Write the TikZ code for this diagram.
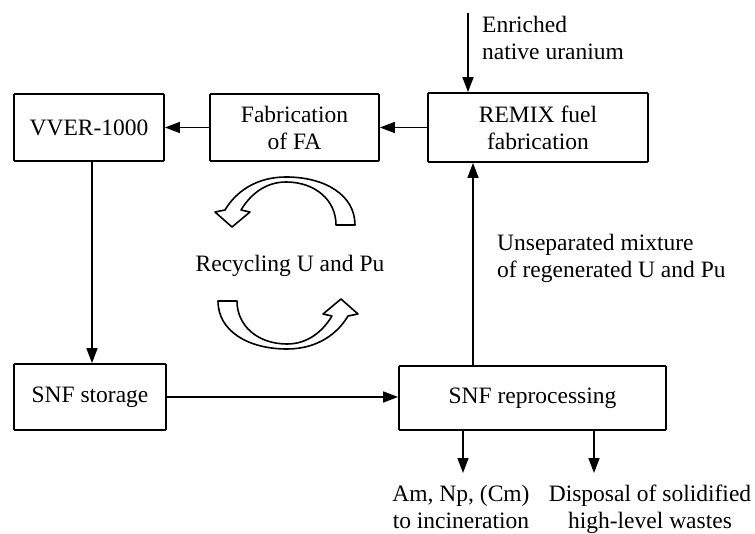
\documentclass[tikz,border=0pt]{standalone}
\usepackage{fontspec}
\setmainfont{Liberation Serif}
\usetikzlibrary{arrows.meta}
\begin{document}
\begin{tikzpicture}[x=1pt,y=-1pt,
  every node/.style={font=\fontsize{23.5}{27}\selectfont, inner sep=0pt},
  box/.style={draw, line width=1.8pt, align=center, rounded corners=0.8pt},
  arr/.style={line width=1.5pt, -{Triangle[length=15pt,width=11pt]}},
  curvy/.style={draw, line width=1.6pt, fill=white, line join=round}]
\useasboundingbox (0,0) rectangle (755,534);
% boxes
\node[box, minimum width=150pt, minimum height=67pt] (vver) at (89,127.5) {VVER-1000};
\node[box, minimum width=169pt, minimum height=67pt] (fa) at (294.5,127.5) {Fabrication\\of FA};
\node[box, minimum width=220pt, minimum height=69pt] (remix) at (538,127.5) {REMIX fuel\\fabrication};
\node[box, minimum width=152pt, minimum height=66pt] (stor) at (90,397) {SNF storage};
\node[box, minimum width=267pt, minimum height=64pt] (rep) at (532.5,398) {SNF reprocessing};
% labels
\node[anchor=north west, align=left] (enr) at (482,16) {Enriched\\native uranium};
\node[anchor=west, align=left] (unsep) at (497,258) {Unseparated mixture\\of regenerated U and Pu};
\node[anchor=base] (recyc) at (290,272) {Recycling U and Pu};
\node[anchor=north, align=center] (amnp) at (461,485) {Am, Np, (Cm)\\to incineration};
\node[anchor=north, align=center] (disp) at (650,485) {Disposal of solidified\\high-level wastes};
% helper coordinates
\coordinate (enrtop) at (468,13);
\coordinate (xv) at (92,0);
\coordinate (xr) at (473,0);
\coordinate (d1) at (463,473);
\coordinate (d2) at (594,473);
% connectors
\draw[arr] (fa.west) -- (vver.east);
\draw[arr] (remix.west) -- (fa.east);
\draw[arr] (enrtop) -- (remix.north -| enrtop);
\draw[arr] (vver.south -| xv) -- (stor.north -| xv);
\draw[arr] (stor.east) -- (stor.east -| rep.west);
\draw[arr] (rep.north -| xr) -- (remix.south -| xr);
\draw[arr] (rep.south -| d1) -- (d1);
\draw[arr] (rep.south -| d2) -- (d2);
% recycling arrows
\def\recyclearrow{(355,225) .. controls (355,195) and (325,177) .. (286,177)
  .. controls (255,177) and (235,193) .. (225,210)
  -- (215,212) -- (232,227) -- (250,212) -- (241,210)
  .. controls (250,195) and (265,182) .. (286,182)
  .. controls (315,182) and (336,200) .. (336,225) -- cycle}
\path[curvy] \recyclearrow;
\path[curvy, rotate around={180:(286.5,263)}] \recyclearrow;
\end{tikzpicture}
\end{document}
